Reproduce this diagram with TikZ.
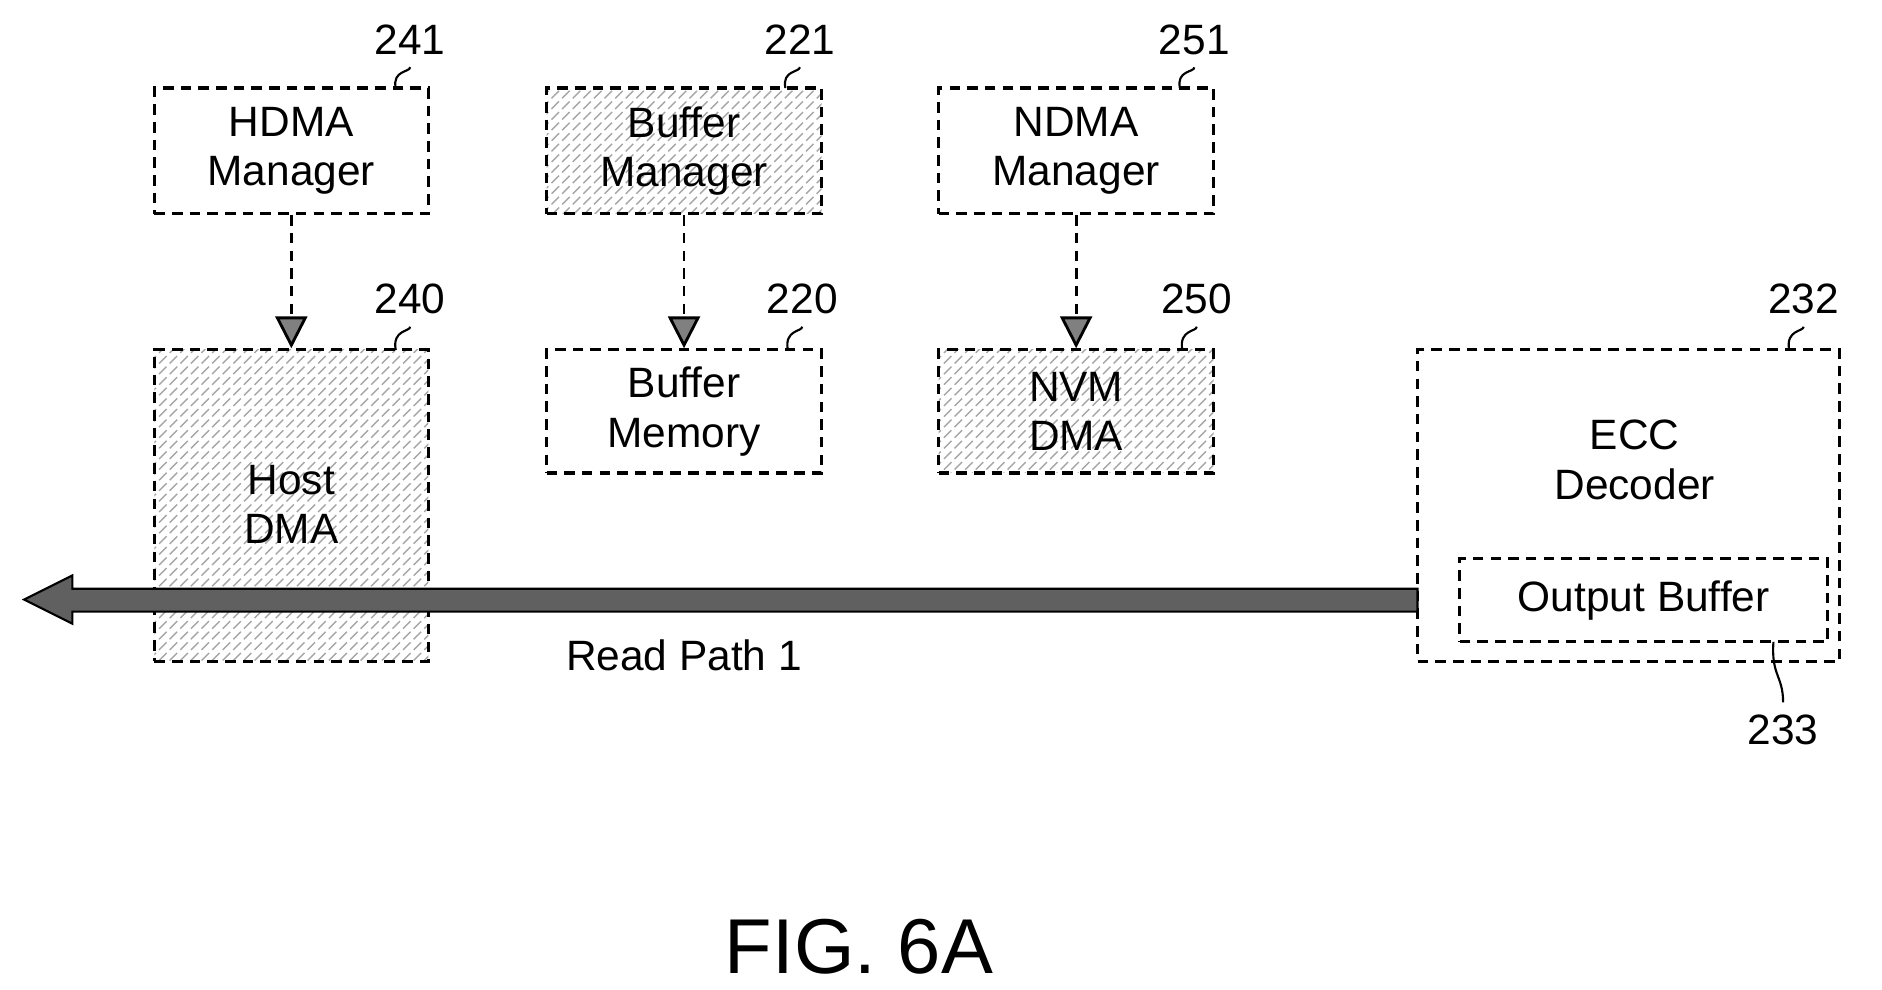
\documentclass[tikz,border=0pt]{standalone}
\usepackage{fontspec}
\setmainfont{Liberation Sans}
\usetikzlibrary{patterns,arrows.meta}
\tikzset{
  blk/.style={draw, line width=0.9pt, densely dashed, inner sep=0pt, align=center,
    font=\fontsize{12}{14}\selectfont},
  hatched/.style={pattern=north east lines, pattern color=gray!70},
  ref/.style={font=\fontsize{12}{14}\selectfont},
  lead/.style={line width=0.6pt},
  conn/.style={line width=0.8pt, densely dashed, -{Triangle[length=9pt,width=9pt,fill=gray]}},
}
\begin{document}
\begin{tikzpicture}[x=0.012cm,y=-0.012cm]
\useasboundingbox (0,0) rectangle (1560,820);
% upper row
\node[blk, minimum width=227*0.012cm, minimum height=104*0.012cm] (hdmam) at (241.5,125) {HDMA\\Manager};
\node[blk, hatched, minimum width=228*0.012cm, minimum height=104*0.012cm] (bufm) at (567,125) {Buffer\\Manager};
\node[blk, minimum width=228*0.012cm, minimum height=104*0.012cm] (ndmam) at (892,125) {NDMA\\Manager};
% lower row
\node[blk, hatched, minimum width=227*0.012cm, minimum height=258*0.012cm] (hdma) at (241.5,419) {};
\node[font=\fontsize{12}{14}\selectfont, align=center] (hdmat) at (241.5,418) {Host\\DMA};
\node[blk, minimum width=228*0.012cm, minimum height=102*0.012cm] (bufmem) at (567,341) {Buffer\\Memory};
\node[blk, hatched, minimum width=228*0.012cm, minimum height=102*0.012cm] (nvm) at (892,341) {NVM\\DMA};
\node[blk, minimum width=350*0.012cm, minimum height=258*0.012cm] (ecc) at (1350,419) {};
\node[font=\fontsize{12}{14}\selectfont, align=center] (ecct) at (1355,381) {ECC\\Decoder};
% read path
\coordinate (rpa) at (1175,497);
\coordinate (rpb) at (20,497);
\fill[gray!75!black, draw=black, line width=0.6pt]
  (1175,488) -- (60,488) -- (60,477) -- (20,497) -- (60,517) -- (60,507) -- (1175,507) -- cycle;
\node[blk, minimum width=305*0.012cm, minimum height=69*0.012cm] (obuf) at (1362.5,497.5) {Output Buffer};
\node[ref] (rp) at (567,543) {Read Path 1};
% connectors
\draw[conn] (hdmam) -- (hdma);
\draw[conn] (bufm) -- (bufmem);
\draw[conn] (ndmam) -- (nvm);
% reference numerals
\node[ref] (n241) at (340,33) {241};
\node[ref] (n221) at (663,33) {221};
\node[ref] (n251) at (990,33) {251};
\node[ref] (n240) at (340,248) {240};
\node[ref] (n220) at (665,248) {220};
\node[ref] (n250) at (992,248) {250};
\node[ref] (n232) at (1495,248) {232};
\node[ref] (n233) at (1478,605) {233};
\draw[lead] (n241.south) .. controls (340,60) and (325,58) .. (328,73);
\draw[lead] (n221.south) .. controls (663,60) and (648,58) .. (651,73);
\draw[lead] (n251.south) .. controls (990,60) and (975,58) .. (978,73);
\draw[lead] (n240.south) .. controls (340,275) and (325,273) .. (328,290);
\draw[lead] (n220.south) .. controls (665,275) and (650,273) .. (653,290);
\draw[lead] (n250.south) .. controls (992,275) and (977,273) .. (980,290);
\draw[lead] (n232.south) .. controls (1495,275) and (1480,273) .. (1483,290);
\draw[lead] (n233.north) .. controls (1478,560) and (1468,560) .. (1470,532);
% caption
\node[font=\fontsize{22}{26}\selectfont] (fig) at (712,785) {FIG. 6A};
\end{tikzpicture}
\end{document}
